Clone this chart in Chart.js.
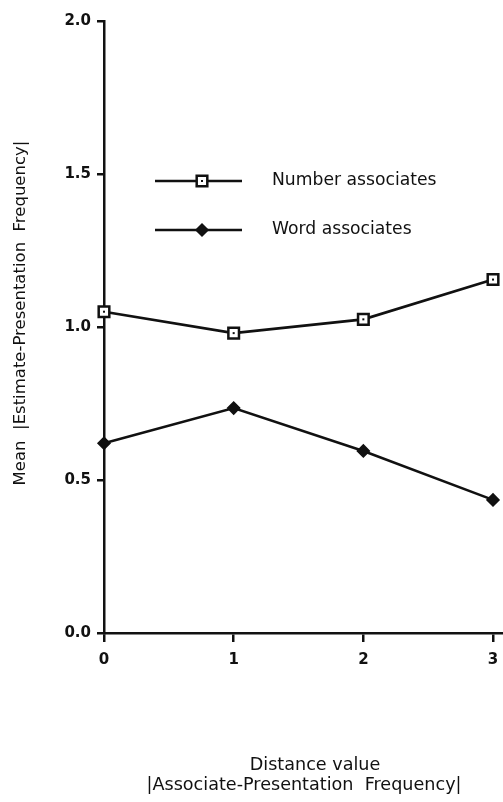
<!DOCTYPE html>
<html>
<head>
<meta charset="utf-8">
<script src="https://cdn.jsdelivr.net/npm/chart.js@4.4.1/dist/chart.umd.min.js"></script>
<style>
  html, body { margin: 0; padding: 0; background: #fff; }
  #wrap { width: 503px; height: 802px; }
</style>
</head>
<body>
<div id="wrap"><canvas id="c" width="503" height="802"></canvas></div>
<script>
// Distance value |Associate - Presentation Frequency|
const distances = [0, 1, 2, 3];
// Mean |Estimate - Presentation Frequency| for each associate type
const numberAssociates = [1.05, 0.98, 1.025, 1.155];
const wordAssociates = [0.62, 0.735, 0.595, 0.435];
const yTicks = [0.0, 0.5, 1.0, 1.5, 2.0];
const xTicks = [0, 1, 2, 3];
const yTitle = 'Mean  |Estimate-Presentation  Frequency|';
const xTitle = ['Distance value', '|Associate-Presentation  Frequency|'];

const FONT = '"DejaVu Sans", Verdana, sans-serif';
const INK = '#111';

const toPoints = vals => vals.map((v, i) => ({ x: distances[i], y: v }));

// Legend drawn inside the plot area: short line with the series marker, then the label
const innerLegend = {
  id: 'innerLegend',
  afterDraw(chart) {
    const ctx = chart.ctx;
    const rows = [181, 230];
    chart.data.datasets.forEach((ds, i) => {
      const y = rows[i];
      ctx.save();
      ctx.strokeStyle = ds.borderColor;
      ctx.lineWidth = ds.borderWidth;
      ctx.beginPath();
      ctx.moveTo(155, y);
      ctx.lineTo(242, y);
      ctx.stroke();
      ctx.fillStyle = ds.pointBackgroundColor;
      ctx.strokeStyle = ds.pointBorderColor;
      ctx.lineWidth = ds.pointBorderWidth;
      Chart.helpers.drawPoint(ctx, {
        pointStyle: ds.pointStyle,
        radius: ds.pointRadius,
        borderWidth: ds.pointBorderWidth,
        rotation: 0
      }, 202, y);
      if (ds.pointStyle === 'rect') {
        ctx.fillStyle = INK;
        ctx.fillRect(201, y - 1, 2, 2);
      }
      ctx.fillStyle = INK;
      ctx.font = '17.2px ' + FONT;
      ctx.textBaseline = 'middle';
      ctx.fillText(ds.label, 272, y);
      ctx.restore();
    });
  }
};

// Small dot in the middle of the open square markers
const squareDots = {
  id: 'squareDots',
  afterDatasetsDraw(chart) {
    const meta = chart.getDatasetMeta(0);
    const ctx = chart.ctx;
    ctx.save();
    ctx.fillStyle = INK;
    meta.data.forEach(p => {
      ctx.fillRect(p.x - 1, p.y - 1, 2, 2);
    });
    ctx.restore();
  }
};

// Axis titles: rotated one beside the y axis, two centred lines under the x axis
const axisTitles = {
  id: 'axisTitles',
  afterDraw(chart) {
    const ctx = chart.ctx;
    ctx.save();
    ctx.fillStyle = INK;
    ctx.textAlign = 'center';
    ctx.textBaseline = 'middle';

    ctx.save();
    ctx.translate(21, 313);
    ctx.rotate(-Math.PI / 2);
    ctx.font = '16.5px ' + FONT;
    ctx.fillText(yTitle, 0, 0);
    ctx.restore();

    ctx.font = '17.6px ' + FONT;
    ctx.fillText(xTitle[0], 315, 765);
    ctx.fillText(xTitle[1], 304, 785);
    ctx.restore();
  }
};

const chart = new Chart(document.getElementById('c'), {
  type: 'line',
  data: {
    datasets: [
      {
        label: 'Number associates',
        data: toPoints(numberAssociates),
        borderColor: INK,
        borderWidth: 2.6,
        pointStyle: 'rect',
        pointRadius: 7.5,
        pointBorderWidth: 2.5,
        pointBackgroundColor: '#fff',
        pointBorderColor: INK,
        tension: 0,
        clip: false
      },
      {
        label: 'Word associates',
        data: toPoints(wordAssociates),
        borderColor: INK,
        borderWidth: 2.6,
        pointStyle: 'rectRot',
        pointRadius: 6,
        pointBorderWidth: 1.5,
        pointBackgroundColor: INK,
        pointBorderColor: INK,
        tension: 0,
        clip: false
      }
    ]
  },
  options: {
    responsive: false,
    animation: false,
    layout: { autoPadding: false, padding: { top: 21, right: 0, bottom: 0, left: 0 } },
    plugins: {
      legend: { display: false },
      tooltip: { enabled: false }
    },
    scales: {
      x: {
        type: 'linear',
        min: xTicks[0],
        max: xTicks[xTicks.length - 1] + 0.077,
        afterBuildTicks: s => { s.ticks = xTicks.map(v => ({ value: v })); },
        afterFit: s => { s.height = 169; s.paddingRight = 0; s.paddingLeft = 0; },
        border: { color: INK, width: 2.5 },
        grid: { display: true, drawOnChartArea: false, drawTicks: true, tickLength: 9, color: INK, lineWidth: 2.5 },
        ticks: {
          color: INK,
          padding: 9,
          font: { family: FONT, size: 15, weight: 'bold' },
          callback: v => String(v)
        },
        title: { display: false }
      },
      y: {
        type: 'linear',
        min: yTicks[0],
        max: yTicks[yTicks.length - 1],
        afterBuildTicks: s => { s.ticks = yTicks.map(v => ({ value: v })); },
        afterFit: s => { s.width = 104; },
        border: { color: INK, width: 2.5 },
        grid: { display: true, drawOnChartArea: false, drawTicks: true, tickLength: 7, color: INK, lineWidth: 2.5 },
        ticks: {
          color: INK,
          padding: 6,
          font: { family: FONT, size: 15, weight: 'bold' },
          callback: v => Number(v).toFixed(1)
        },
        title: { display: false }
      }
    }
  },
  plugins: [innerLegend, squareDots, axisTitles]
});
</script>
</body>
</html>
